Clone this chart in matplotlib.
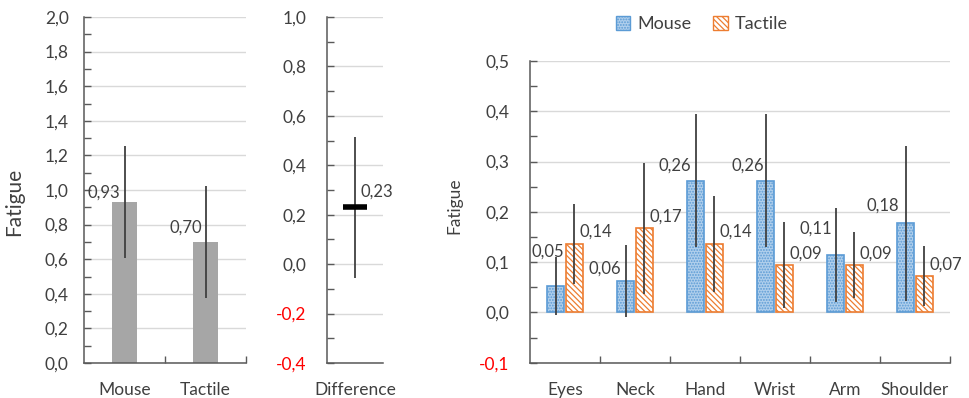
import matplotlib.pyplot as plt
import numpy as np
from matplotlib.ticker import MultipleLocator, FuncFormatter, FixedLocator
from matplotlib.patches import Patch

plt.rcParams['font.family'] = ['Lato', 'DejaVu Sans']
plt.rcParams['hatch.linewidth'] = 0.9

# overall fatigue
overall_cats = ['Mouse', 'Tactile']
overall_mean = [0.93, 0.70]
overall_err = [0.325, 0.325]

# difference tactile - mouse
diff_cat = ['Difference']
diff_mean = [0.23]
diff_err = [0.285]

# fatigue per body part
parts = ['Eyes', 'Neck', 'Hand', 'Wrist', 'Arm', 'Shoulder']
mouse = [0.052, 0.063, 0.262, 0.262, 0.114, 0.177]
mouse_err = [0.058, 0.072, 0.132, 0.132, 0.093, 0.154]
tactile = [0.136, 0.167, 0.136, 0.094, 0.094, 0.072]
tactile_err = [0.08, 0.13, 0.096, 0.085, 0.066, 0.06]

txt = '#404040'
axc = '#595959'
grid = '#D9D9D9'
errc = '#404040'
blue_fill = '#B0CFEC'
blue_edge = '#5B9BD5'
orange = '#ED7D31'

def fmt1(v, pos=None):
    if abs(v) < 1e-9:
        v = 0.0
    return f"{v:.1f}".replace('.', ',')

def lab2(v):
    return f"{v:.2f}".replace('.', ',')

def style(ax, ymin, ymax, major, minor, pad):
    ax.set_ylim(ymin, ymax)
    ax.yaxis.set_major_locator(MultipleLocator(major))
    ax.yaxis.set_minor_locator(MultipleLocator(minor))
    ax.yaxis.set_major_formatter(FuncFormatter(fmt1))
    for s in ['top', 'right']:
        ax.spines[s].set_visible(False)
    for s in ['left', 'bottom']:
        ax.spines[s].set_color(axc)
        ax.spines[s].set_linewidth(1.1)
    ax.tick_params(axis='y', which='both', direction='in', color=axc, width=1.0,
                   length=5, labelcolor=txt, labelsize=12.5, pad=pad)
    ax.tick_params(axis='x', which='major', length=0, labelcolor=txt, labelsize=12.5, pad=14)
    ax.tick_params(axis='x', which='minor', direction='in', length=5, color=axc, width=1.0)
    ax.grid(axis='y', which='major', color=grid, lw=1.0)
    ax.set_axisbelow(True)

def redneg(ax):
    ax.figure.canvas.draw()
    for t, v in zip(ax.get_yticklabels(), ax.get_yticks()):
        if v < -1e-9:
            t.set_color('red')

fig = plt.figure(figsize=(9.69, 3.98), dpi=100)

# panel 1
ax1 = fig.add_axes([84/969, 35/398, 162/969, 346/398])
x1 = np.arange(len(overall_cats))
ax1.bar(x1, overall_mean, width=0.30, color='#A6A6A6', zorder=2)
ax1.errorbar(x1, overall_mean, yerr=overall_err, fmt='none', ecolor=errc, elinewidth=1.3, capsize=0, zorder=3)
style(ax1, 0, 2.0, 0.2, 0.1, 11)
ax1.set_xlim(-0.5, 1.5)
ax1.set_xticks(x1)
ax1.set_xticklabels(overall_cats)
ax1.xaxis.set_minor_locator(FixedLocator([0.5, 1.5]))
ax1.set_ylabel('Fatigue', fontsize=15, color=txt)
ax1.yaxis.set_label_coords(-0.37, 0.465)
off1 = [(-21, 9), (-20, 14)]
for xi, v, o in zip(x1, overall_mean, off1):
    ax1.annotate(lab2(v), (xi, v), xytext=o, textcoords='offset pixels',
                 ha='center', va='center', fontsize=12, color=txt)

# panel 2
ax2 = fig.add_axes([327/969, 35/398, 56/969, 346/398])
x2 = np.arange(len(diff_cat))
ax2.errorbar(x2, diff_mean, yerr=diff_err, fmt='none', ecolor=errc, elinewidth=1.3, capsize=0, zorder=2)
ax2.plot(x2, diff_mean, marker='_', ms=17, mew=4, color='black', ls='none', zorder=3)
style(ax2, -0.4, 1.0, 0.2, 0.1, 15)
ax2.set_xlim(-0.5, 0.5)
ax2.set_xticks(x2)
ax2.set_xticklabels(diff_cat)
for xi, v in zip(x2, diff_mean):
    ax2.annotate(lab2(v), (xi, v), xytext=(22, 16), textcoords='offset pixels',
                 ha='center', va='center', fontsize=12, color=txt)

# panel 3
ax3 = fig.add_axes([530/969, 35.3/398, 420/969, 301.7/398])
x3 = np.arange(len(parts))
w = 0.24
xm = x3 - 0.135
xt = x3 + 0.135
ax3.bar(xm, mouse, width=w, color=blue_fill, edgecolor=blue_edge, hatch='......', lw=1.2, zorder=2)
ax3.bar(xt, tactile, width=w, color='white', edgecolor=orange, hatch='\\\\\\\\\\\\', lw=1.2, zorder=2)
ax3.errorbar(xm, mouse, yerr=mouse_err, fmt='none', ecolor=errc, elinewidth=1.3, capsize=0, zorder=3)
ax3.errorbar(xt, tactile, yerr=tactile_err, fmt='none', ecolor=errc, elinewidth=1.3, capsize=0, zorder=3)
style(ax3, -0.1, 0.5, 0.1, 0.05, 15)
ax3.set_xlim(-0.5, len(parts) - 0.5)
ax3.set_xticks(x3)
ax3.set_xticklabels(parts)
ax3.xaxis.set_minor_locator(FixedLocator(list(x3[:-1] + 0.5) + [len(parts) - 0.5]))
ax3.set_ylabel('Fatigue', fontsize=12.5, color=txt)
ax3.yaxis.set_label_coords(-0.16, 0.52)
mouse_off = [(-8, 35), (-21, 12), (-21, 15), (-18, 15), (-20, 26), (-23, 18)]
for xi, v, o in zip(xm, mouse, mouse_off):
    ax3.annotate(lab2(v), (xi, v), xytext=o, textcoords='offset pixels',
                 ha='center', va='center', fontsize=12, color=txt)
for xi, v in zip(xt, tactile):
    ax3.annotate(lab2(v), (xi, v), xytext=(21, 12), textcoords='offset pixels',
                 ha='center', va='center', fontsize=12, color=txt)

handles = [Patch(facecolor=blue_fill, edgecolor=blue_edge, hatch='......', label='Mouse'),
           Patch(facecolor='white', edgecolor=orange, hatch='\\\\\\\\\\\\', label='Tactile')]
fig.legend(handles=handles, loc='center', bbox_to_anchor=(702/969, 1 - 24/398), ncol=2,
           frameon=False, fontsize=13, handlelength=0.8, handleheight=0.8,
           handletextpad=0.4, columnspacing=1.2, labelcolor=txt)

for a in [ax1, ax2, ax3]:
    redneg(a)

fig.savefig('out.png', dpi=100)
